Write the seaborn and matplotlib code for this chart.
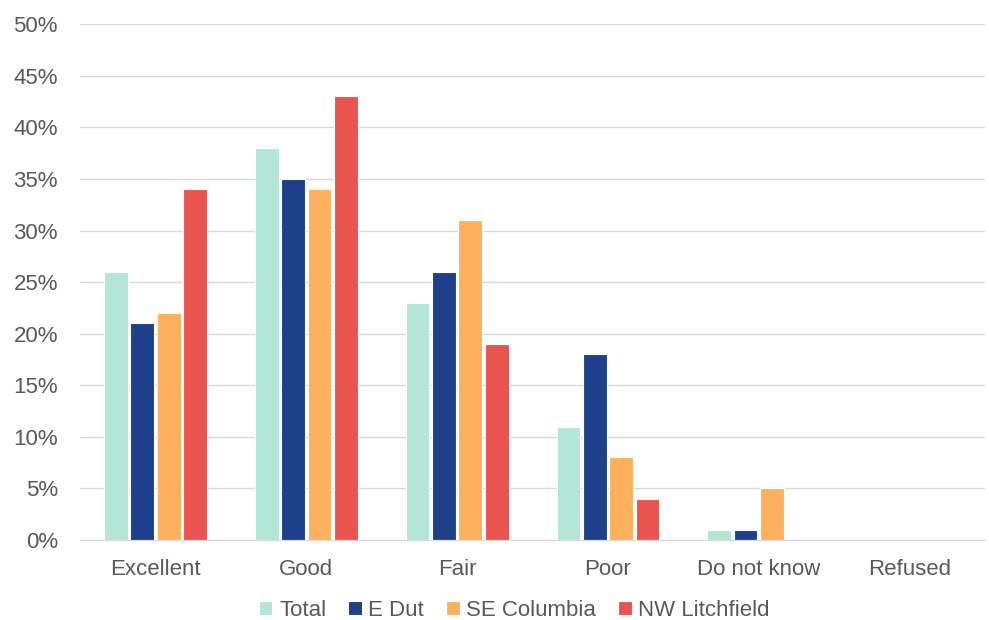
import pandas as pd
import matplotlib.pyplot as plt
import seaborn as sns
from matplotlib.ticker import PercentFormatter

categories = ['Excellent', 'Good', 'Fair', 'Poor', 'Do not know', 'Refused']
series = ['Total', 'E Dut', 'SE Columbia', 'NW Litchfield']
total = [26, 38, 23, 11, 1, 0]
e_dut = [21, 35, 26, 18, 1, 0]
se_columbia = [22, 34, 31, 8, 5, 0]
nw_litchfield = [34, 43, 19, 4, 0, 0]
colors = ['#b3e6d6', '#1e408a', '#fdb15e', '#ea5450']

rows = []
for name, vals in zip(series, [total, e_dut, se_columbia, nw_litchfield]):
    for cat, v in zip(categories, vals):
        rows.append({'Category': cat, 'Series': name, 'Value': v})
data = pd.DataFrame(rows)

sns.set_style('white')
plt.rcParams['font.family'] = ['Liberation Sans', 'DejaVu Sans']

fig = plt.figure(figsize=(9.89, 6.2), dpi=100)
ax = fig.add_axes([0.081, 0.129, 0.915, 0.832])

sns.barplot(data=data, x='Category', y='Value', hue='Series', order=categories,
            hue_order=series, palette=colors, saturation=1, width=0.7, gap=0.1,
            edgecolor='white', linewidth=0.8, ax=ax)

ax.set_ylim(0, 50)
ax.set_yticks(range(0, 51, 5))
ax.yaxis.set_major_formatter(PercentFormatter(decimals=0))
ax.grid(axis='y', color='#d9d9d9', linewidth=1)
ax.set_axisbelow(True)
for side in ['top', 'right', 'left']:
    ax.spines[side].set_visible(False)
ax.spines['bottom'].set_color('#d9d9d9')
ax.set_xlabel('')
ax.set_ylabel('')
ax.tick_params(axis='both', colors='#595959', labelsize=16, length=0)
ax.tick_params(axis='x', pad=14)
ax.tick_params(axis='y', pad=16)

ax.legend(loc='upper center', bbox_to_anchor=(0.48, -0.09), ncol=4, frameon=False,
          fontsize=16, labelcolor='#595959', handlelength=0.6, handleheight=0.6,
          handletextpad=0.3, columnspacing=1.0, borderaxespad=0.2)

fig.savefig('out.png', dpi=100)
